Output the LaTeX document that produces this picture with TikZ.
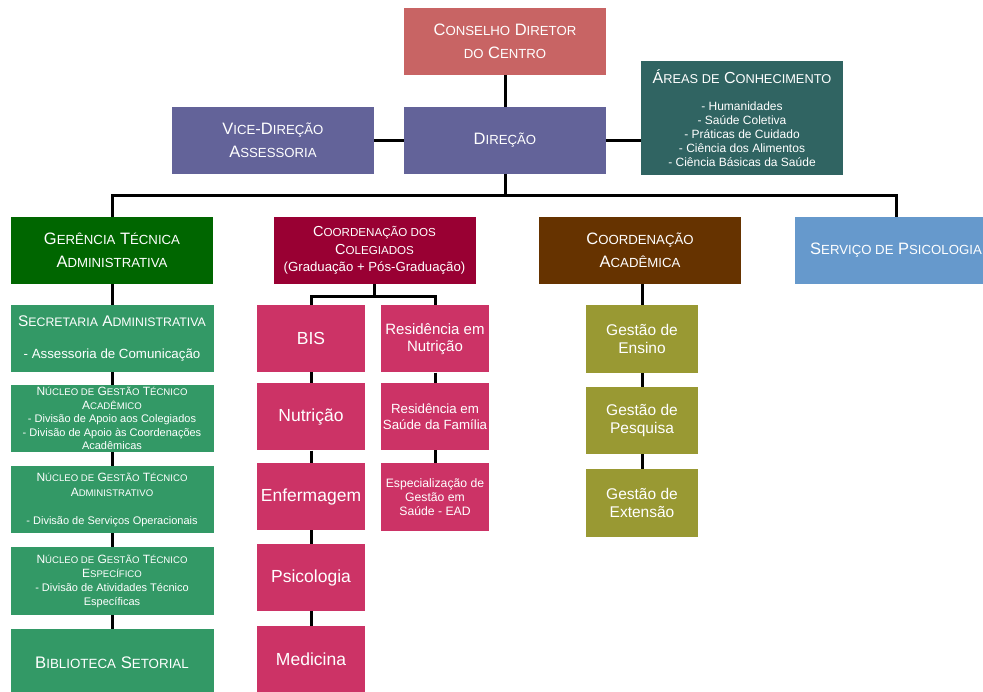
\documentclass[tikz,border=0pt]{standalone}
\usepackage{fontspec}
\setmainfont{Liberation Sans}
\usepackage{tikz}
\usetikzlibrary{positioning,calc}
\definecolor{orgrose}{HTML}{C86464}
\definecolor{orgslate}{HTML}{636399}
\definecolor{orgteal}{HTML}{306462}
\definecolor{orgforest}{HTML}{006600}
\definecolor{orgwine}{HTML}{990033}
\definecolor{orgbrown}{HTML}{663300}
\definecolor{orgsky}{HTML}{6699CC}
\definecolor{orgjade}{HTML}{339966}
\definecolor{orgpink}{HTML}{CC3366}
\definecolor{orgolive}{HTML}{999933}
\makeatletter
\newcommand{\lowcap}[1]{{\fontsize{\fpeval{0.8*\f@size}}{\f@baselineskip}\selectfont #1}}
\makeatother
\newcommand{\fsz}[2]{\fontsize{#1}{#2}\selectfont}
\tikzset{
  unit/.style={text=white, align=center, inner sep=0pt, minimum width=202pt,
    minimum height=67pt, font=\fsz{16.5}{22.5}},
  conb/.style={unit, fill=orgrose},
  dirb/.style={unit, fill=orgslate},
  areab/.style={unit, fill=orgteal, minimum height=114pt, font=\fsz{12}{14}},
  gerb/.style={unit, fill=orgforest},
  colb/.style={unit, fill=orgwine, font=\fsz{14.5}{17.5}},
  acab/.style={unit, fill=orgbrown},
  psib/.style={unit, fill=orgsky},
  secb/.style={unit, fill=orgjade, minimum width=203pt},
  curb/.style={unit, fill=orgpink, minimum width=108pt, font=\fsz{17.5}{20}},
  gesb/.style={unit, fill=orgolive, minimum width=112pt, minimum height=68pt,
    font=\fsz{15.5}{18}},
  conn/.style={line width=3pt, draw=black},
}

\begin{document}
\begin{tikzpicture}[x=1pt,y=-1pt]
  \fill[white] (0,0) rectangle (983,692);
  \clip (0,0) rectangle (983,692);
  \node[conb] (conselho) at (505,41.5) {C\lowcap{ONSELHO} D\lowcap{IRETOR}\\\lowcap{DO} C\lowcap{ENTRO}};
  \node[dirb] (direcao) at (505,140.5) {D\lowcap{IREÇÃO}};
  \node[dirb] (vice) at (273,140.5) {V\lowcap{ICE}-D\lowcap{IREÇÃO}\\A\lowcap{SSESSORIA}};
  \node[areab] (areas) at (742,118)
    {{\fsz{16}{18}Á\lowcap{REAS DE} C\lowcap{ONHECIMENTO}}\\[13pt]
     - Humanidades\\- Saúde Coletiva\\- Práticas de Cuidado\\
     - Ciência dos Alimentos\\- Ciência Básicas da Saúde};

  \node[gerb] (gerencia) at (112,250.5) {G\lowcap{ERÊNCIA} T\lowcap{ÉCNICA}\\A\lowcap{DMINISTRATIVA}};
  \node[colb] (colegiados) at (374.5,250.5)
    {C\lowcap{OORDENAÇÃO DOS}\\C\lowcap{OLEGIADOS}\\{\fsz{13.2}{17.5}(Graduação + Pós-Graduação)}};
  \node[acab] (academica) at (640,250.5) {C\lowcap{OORDENAÇÃO}\\A\lowcap{CADÊMICA}};
  \node[psib] (servico) at (896,250.5) {S\lowcap{ERVIÇO DE} P\lowcap{SICOLOGIA}};

  \node[secb, font=\fsz{15.4}{20}] (secretaria) at (112,338.5)
    {S\lowcap{ECRETARIA} A\lowcap{DMINISTRATIVA}\\[12pt]{\fsz{13.3}{20}- Assessoria de Comunicação}};
  \node[secb, font=\fsz{12}{13.5}] (nga) at (112,418.5)
    {N\lowcap{ÚCLEO DE} G\lowcap{ESTÃO} T\lowcap{ÉCNICO}\\A\lowcap{CADÊMICO}\\
     {\fsz{11}{13.5}- Divisão de Apoio aos Colegiados}\\
     {\fsz{11}{13.5}- Divisão de Apoio às Coordenações}\\{\fsz{11}{13.5}Acadêmicas}};
  \node[secb, font=\fsz{12}{15}] (ngadm) at (112,499.5)
    {N\lowcap{ÚCLEO DE} G\lowcap{ESTÃO} T\lowcap{ÉCNICO}\\A\lowcap{DMINISTRATIVO}\\[13pt]
     {\fsz{11}{15}- Divisão de Serviços Operacionais}};
  \node[secb, font=\fsz{12}{14}, minimum height=68pt] (ngesp) at (112,581)
    {N\lowcap{ÚCLEO DE} G\lowcap{ESTÃO} T\lowcap{ÉCNICO}\\E\lowcap{SPECÍFICO}\\
     {\fsz{11}{13.5}- Divisão de Atividades Técnico}\\{\fsz{11}{13.5}Específicas}};
  \node[secb, font=\fsz{16.7}{20}] (biblioteca) at (112,662.5) {B\lowcap{IBLIOTECA} S\lowcap{ETORIAL}};

  \node[curb] (bis) at (311,338.5) {BIS};
  \node[curb] (nutricao) at (311,417) {Nutrição};
  \node[curb] (enfermagem) at (311,496.5) {Enfermagem};
  \node[curb] (psicologia) at (311,577.5) {Psicologia};
  \node[curb] (medicina) at (311,659.5) {Medicina};
  \node[curb, font=\fsz{15}{17}] (resnut) at (435,339) {Residência em\\Nutrição};
  \node[curb, font=\fsz{13.3}{15.5}] (ressaude) at (435,416.5) {Residência em\\Saúde da Família};
  \node[curb, font=\fsz{12.2}{14}, minimum height=68pt] (especial) at (435,497)
    {Especialização de\\Gestão em\\Saúde - EAD};

  \node[gesb] (ensino) at (642,339) {Gestão de\\Ensino};
  \node[gesb, minimum height=67pt] (pesquisa) at (642,420.5) {Gestão de\\Pesquisa};
  \node[gesb] (extensao) at (642,503) {Gestão de\\Extensão};

  \coordinate (bus) at (505,196);
  \coordinate (colsplit) at (374.5,297);
  \draw[conn] (conselho) -- (direcao);
  \draw[conn] (vice) -- (direcao);
  \draw[conn] (direcao.east) -- (direcao.east -| areas.west);
  \draw[conn] (direcao.south) -- (bus);
  \draw[conn] (gerencia.north) |- (bus) -| (servico.north);
  \draw[conn] (academica.north -| ensino) -- (academica.north -| ensino |- bus);
  \draw[conn] (gerencia) -- (secretaria);
  \draw[conn] (secretaria) -- (nga);
  \draw[conn] (nga) -- (ngadm);
  \draw[conn] (ngadm) -- (ngesp);
  \draw[conn] (ngesp) -- (biblioteca);
  \draw[conn] (colegiados.south -| colsplit) -- (colsplit);
  \draw[conn] (bis.north) |- (colsplit) -| (resnut.north);
  \draw[conn] (bis) -- (nutricao);
  \draw[conn] (nutricao) -- (enfermagem);
  \draw[conn] (enfermagem) -- (psicologia);
  \draw[conn] (psicologia) -- (medicina);
  \draw[conn] (resnut) -- (ressaude);
  \draw[conn] (ressaude) -- (especial);
  \draw[conn] (academica.south -| ensino) -- (ensino.north);
  \draw[conn] (ensino) -- (pesquisa);
  \draw[conn] (pesquisa) -- (extensao);
\end{tikzpicture}
\end{document}
